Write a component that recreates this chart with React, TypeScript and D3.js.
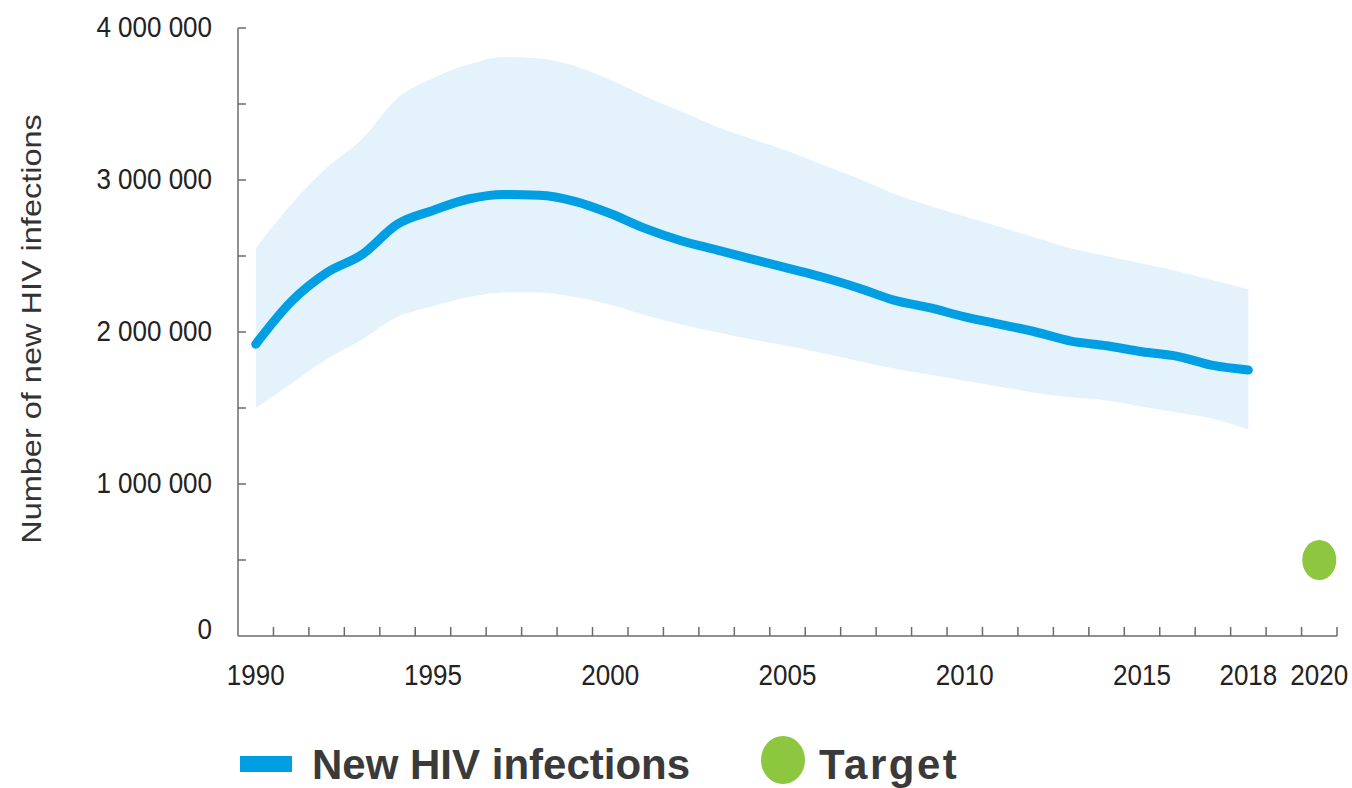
import React from 'react';
import * as d3 from 'd3';

// years on the axis (band scale, one band per year)
const years = d3.range(1990, 2021);
const dataYears = d3.range(1990, 2019);

// estimated new HIV infections (millions)
const estimate = [1.92, 2.2, 2.39, 2.51, 2.71, 2.8, 2.875, 2.905, 2.9, 2.86, 2.78, 2.68, 2.6, 2.54, 2.48,
  2.42, 2.36, 2.29, 2.21, 2.16, 2.1, 2.05, 2.0, 1.94, 1.91, 1.87, 1.84, 1.78, 1.75];
const upper = [2.55, 2.84, 3.08, 3.27, 3.54, 3.67, 3.76, 3.81, 3.8, 3.75, 3.66, 3.55, 3.45, 3.35, 3.27,
  3.19, 3.1, 3.01, 2.91, 2.83, 2.76, 2.69, 2.62, 2.55, 2.5, 2.45, 2.4, 2.34, 2.28];
const lower = [1.5, 1.66, 1.82, 1.95, 2.1, 2.17, 2.23, 2.26, 2.26, 2.23, 2.18, 2.11, 2.05, 2.0, 1.95,
  1.91, 1.86, 1.81, 1.76, 1.72, 1.68, 1.64, 1.6, 1.57, 1.55, 1.51, 1.47, 1.43, 1.36];

const targetYear = 2020;
const targetValue = 0.5;

const xLabels = [1990, 1995, 2000, 2005, 2010, 2015, 2018, 2020];
const yLabelTicks = [0, 1, 2, 3, 4];
const yMinorTicks = [0.5, 1.5, 2.5, 3.5, 4];

const BLUE = '#009fe3';
const BAND = '#e3f2fb';
const GREEN = '#8dc63f';
const AXIS = '#6b6b6b';

export default function App() {
  const width = 1352;
  const height = 788;
  const left = 238, right = 1337, top = 28, bottom = 636;

  const x = d3.scaleBand<number>().domain(years).range([left, right]);
  const y = d3.scaleLinear().domain([0, 4]).range([bottom, top]);
  const cx = (yr: number) => (x(yr) as number) + x.bandwidth() / 2;

  const rows = dataYears.map((yr, i) => ({ yr, v: estimate[i], lo: lower[i], hi: upper[i] }));

  const area = d3.area<typeof rows[0]>()
    .x(d => cx(d.yr))
    .y0(d => y(d.lo))
    .y1(d => y(d.hi))
    .curve(d3.curveMonotoneX);

  const line = d3.line<typeof rows[0]>()
    .x(d => cx(d.yr))
    .y(d => y(d.v))
    .curve(d3.curveMonotoneX);

  const fmt = (v: number) => (v === 0 ? '0' : d3.format(',')(v * 1e6).replace(/,/g, ' '));

  // boundaries between year bands
  const xTicks = years.slice(1).map(yr => x(yr) as number).concat([right]);

  return (
    <svg width={width} height={height} style={{ position: 'absolute', left: 0, top: 0, background: '#fff' }}
      fontFamily="'Liberation Sans', Arial, sans-serif">
      <path d={area(rows) || ''} fill={BAND} />
      <path d={line(rows) || ''} fill="none" stroke={BLUE} strokeWidth={9} strokeLinecap="round" strokeLinejoin="round" />

      <ellipse cx={cx(targetYear)} cy={y(targetValue)} rx={17} ry={20} fill={GREEN} />

      {/* y axis */}
      <line x1={left} x2={left} y1={top} y2={bottom} stroke={AXIS} strokeWidth={1.5} />
      {yMinorTicks.concat([1, 2, 3]).map(t => (
        <line key={'yt' + t} x1={left} x2={left + 8} y1={y(t)} y2={y(t)} stroke={AXIS} strokeWidth={1.5} />
      ))}
      {yLabelTicks.map(t => (
        <text key={'yl' + t} transform={`translate(212,${y(t) + (t === 0 ? 3 : 9)}) scale(1,1.16)`}
          textAnchor="end" fontSize={26} fill="#222">{fmt(t)}</text>
      ))}

      {/* x axis */}
      <line x1={left} x2={right} y1={bottom} y2={bottom} stroke={AXIS} strokeWidth={1.5} />
      {xTicks.map((t, i) => (
        <line key={'xt' + i} x1={t} x2={t} y1={bottom} y2={bottom - 9} stroke={AXIS} strokeWidth={1.5} />
      ))}
      {xLabels.map(yr => (
        <text key={'xl' + yr} transform={`translate(${cx(yr)},685) scale(1,1.16)`}
          textAnchor="middle" fontSize={26} fill="#222">{yr}</text>
      ))}

      <text transform="translate(41,329) rotate(-90) scale(1.16,1)" textAnchor="middle" fontSize={28} fill="#333">
        Number of new HIV infections
      </text>

      {/* legend */}
      <rect x={240} y={756} width={52} height={16} fill={BLUE} />
      <text x={312} y={779} fontSize={42} fontWeight="bold" fill="#3a3a3a">New HIV infections</text>
      <ellipse cx={783} cy={760} rx={22} ry={24} fill={GREEN} />
      <text x={819} y={779} fontSize={42} fontWeight="bold" fill="#3a3a3a" letterSpacing={2.5}>Target</text>
    </svg>
  );
}
